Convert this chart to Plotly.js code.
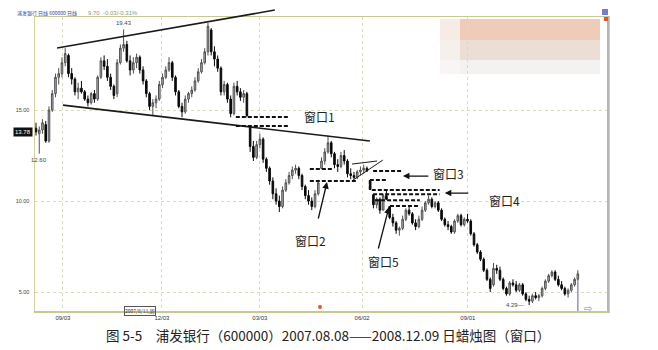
<!DOCTYPE html>
<html><head><meta charset="utf-8">
<script src="https://cdn.plot.ly/plotly-3.0.1.min.js"></script>
<style>html,body{margin:0;padding:0;background:#fff;}#chart{width:658px;height:350px;}</style>
</head><body><div id="chart"></div>
<script>
// ---- data (2-day candles) ----
const openP = [14.0,13.7,13.9,14.2,13.3,15.0,15.9,16.8,17.0,17.6,18.0,17.0,16.7,16.0,16.2,16.0,15.6,15.4,15.9,15.6,16.8,17.7,17.4,16.8,16.3,15.9,17.6,18.4,18.6,17.7,17.2,17.6,17.9,17.2,16.6,15.9,15.2,15.4,15.6,16.4,16.8,17.2,17.6,16.8,16.0,15.2,14.9,15.6,15.9,16.1,16.6,17.1,17.6,18.2,19.4,18.2,17.8,17.3,16.0,16.4,15.6,14.8,16.3,16.0,15.7,15.9,14.1,13.0,12.4,13.1,13.4,12.3,11.8,11.1,10.4,10.0,9.7,10.6,11.0,11.4,11.7,11.8,11.4,10.8,10.3,10.0,9.7,10.4,11.8,12.2,12.7,13.2,12.6,12.0,11.9,12.5,12.2,11.5,11.4,11.3,11.6,11.7,11.8,11.1,10.35,9.8,10.1,9.5,10.3,9.7,9.1,8.8,8.4,8.5,9.0,9.5,9.3,8.8,8.6,9.0,9.5,9.9,10.1,9.7,9.9,9.5,9.0,8.7,8.6,8.3,8.9,9.2,8.7,9.0,8.9,8.2,7.6,7.2,6.8,6.2,5.7,5.4,6.3,6.2,5.7,5.2,4.9,5.5,5.4,5.1,5.4,4.9,4.6,4.5,4.8,4.7,4.8,5.2,5.6,5.9,6.1,5.7,5.4,5.2,4.9,5.1,5.4,5.7];
const highP = [14.3,14.1,14.5,14.4,15.2,16.1,17.0,17.3,17.9,18.4,18.1,17.3,16.8,16.5,16.6,16.1,15.8,16.0,16.1,16.9,17.9,18.0,17.8,17.0,16.4,17.8,18.6,19.43,18.8,18.0,17.9,18.1,18.0,17.4,16.7,16.0,15.6,15.8,16.6,17.0,17.4,17.9,17.7,16.9,16.1,15.4,15.8,16.0,16.3,16.8,17.3,17.8,18.4,19.8,19.5,18.5,18.0,17.4,16.6,16.5,15.8,16.5,16.6,16.2,16.1,16.0,14.1,13.3,13.3,13.7,13.5,12.4,11.9,11.3,10.7,10.3,10.8,11.2,11.6,11.9,12.0,11.9,11.5,10.9,10.6,10.2,10.6,11.1,12.4,12.9,13.6,13.3,12.7,12.3,12.7,12.8,12.3,11.8,11.6,11.7,11.9,12.0,11.9,11.15,10.38,10.2,10.2,10.4,10.6,9.73,9.3,8.9,8.6,9.2,9.6,9.7,9.4,9.0,9.2,9.7,10.0,10.3,10.2,10.0,10.0,9.6,9.1,8.9,8.7,9.0,9.3,9.3,9.1,9.3,9.0,8.3,7.7,7.3,6.9,6.3,5.8,6.6,6.5,6.4,5.8,5.3,5.6,5.7,5.6,5.5,5.5,5.0,4.8,4.9,5.0,4.9,5.3,5.7,6.0,6.2,6.2,5.9,5.6,5.3,5.2,5.5,5.8,6.2];
const lowP  = [13.6,12.6,13.7,13.2,13.2,14.9,15.7,16.4,16.8,17.4,16.8,16.4,15.8,15.6,15.9,15.5,15.2,15.3,15.4,15.5,16.7,17.2,16.6,16.1,15.6,15.7,17.5,18.2,17.6,16.9,17.0,17.3,17.0,16.4,15.7,15.0,14.7,15.1,15.5,16.2,16.7,17.1,16.6,15.8,15.1,14.6,14.8,15.4,15.7,16.0,16.5,17.0,17.5,18.0,18.0,17.4,17.1,15.8,15.8,15.4,14.6,14.7,15.8,15.5,15.4,14.6,12.7,12.2,12.3,12.9,12.1,11.6,10.9,10.1,9.8,9.4,9.6,10.5,10.9,11.2,11.5,11.2,10.6,10.1,9.8,9.5,9.6,10.3,11.76,12.0,12.6,12.4,11.8,11.6,11.8,12.0,11.3,11.2,11.2,11.2,11.4,11.5,11.6,10.6,9.6,9.6,9.3,9.5,10.05,9.0,8.6,8.2,8.1,8.4,8.9,9.2,8.7,8.4,8.5,8.9,9.4,9.8,9.6,9.6,9.4,8.9,8.6,8.4,8.2,8.2,8.8,8.6,8.6,8.8,8.1,7.5,7.1,6.7,6.1,5.6,5.0,5.3,6.0,5.6,5.1,4.8,4.8,5.3,5.0,5.0,4.8,4.5,4.29,4.4,4.6,4.5,4.7,5.1,5.5,5.8,5.6,5.3,5.1,4.8,4.7,5.0,5.3,5.6];
const closeP= [13.8,13.9,14.3,13.3,15.0,15.9,16.8,17.0,17.6,18.1,17.0,16.7,16.0,16.2,16.0,15.6,15.4,15.9,15.6,16.8,17.7,17.4,16.8,16.3,15.8,17.6,18.4,18.6,17.7,17.2,17.6,17.9,17.2,16.6,15.9,15.2,15.4,15.6,16.4,16.8,17.2,17.6,16.8,16.0,15.2,14.9,15.6,15.9,16.1,16.6,17.1,17.6,18.2,19.6,18.2,17.8,17.3,16.0,16.4,15.6,14.8,16.3,16.0,15.7,15.9,14.7,13.0,12.4,13.1,13.4,12.3,11.8,11.1,10.4,10.0,9.7,10.6,11.0,11.4,11.7,11.8,11.4,10.8,10.3,10.0,9.7,10.4,11.0,12.2,12.7,13.2,12.6,12.0,11.9,12.5,12.2,11.5,11.4,11.3,11.6,11.7,11.8,11.65,10.65,9.8,10.1,9.5,10.3,10.1,9.1,8.8,8.4,8.5,9.0,9.5,9.3,8.8,8.6,9.0,9.5,9.9,10.1,9.7,9.9,9.5,9.0,8.7,8.6,8.3,8.9,9.2,8.7,9.0,8.9,8.2,7.6,7.2,6.8,6.2,5.7,5.2,6.3,6.2,5.7,5.2,4.9,5.5,5.4,5.1,5.4,4.9,4.6,4.5,4.8,4.7,4.8,5.2,5.6,5.9,6.1,5.7,5.4,5.2,4.9,5.1,5.4,5.7,6.0];
const tickPos = [8.3, 38.8, 69.0, 100.5, 133.1];
const tickText = ['09/03','12/03','03/03','06/02','09/01'];
const yTickVals = [5, 10, 15];
const yTickText = ['5.00','10.00','15.00'];
const lastPrice = 13.78;
const highLabel = 19.43, lowLabel = 12.60, minLabel = 4.29;

// analyst drawings (data coordinates: candle index, price)
const upperTrend = [[6.5, 18.41], [73.6, 20.49]];
const lowerTrend = [[8.3, 15.27], [102.9, 13.30]];
const triUpper = [[97.4, 12.03], [105.1, 12.20]];
const triLower = [[97.7, 11.15], [106.9, 12.25]];
const windowLines = [
  [61.6, 77.7, 14.62], [61.6, 77.7, 14.12],
  [84.4, 91.5, 11.76], [84.4, 98.9, 11.10],
  [103.9, 113.1, 11.65], [102.9, 108.2, 11.15],
  [103.5, 124.4, 10.60], [103.9, 124.4, 10.38],
  [104.5, 118.3, 10.05], [109.1, 118.3, 9.73]
];
const windowNames = ['窗口1','窗口2','窗口3','窗口4','窗口5'];
const labelPos = [[87.5, 14.62], [84.7, 7.86], [127.0, 11.54], [144.5, 10.05], [107.0, 6.70]];
const arrows = [null, [[86.9, 8.96],[89.7, 11.04]], [[121.4, 11.37],[113.1, 11.37]], [[133.7, 10.44],[126.0, 10.44]], [[105.4, 7.31],[108.8, 9.67]]];

const Y0 = 3.96, Y1 = 20.11, X0 = -0.31, X1 = 176.3;
const idx = openP.map((_, i) => i);
const px = v => (v - 35) / 573;
const py = v => (311 - v) / 294;
const toPaperY = p => (p - Y0) / (Y1 - Y0);

const trace = {
  type: 'candlestick', x: idx, open: openP, high: highP, low: lowP, close: closeP,
  increasing: {line: {color: '#505050', width: 1}, fillcolor: '#b8b8b8'},
  decreasing: {line: {color: '#0a0a0a', width: 1}, fillcolor: '#0a0a0a'},
  whiskerwidth: 0, hoverinfo: 'skip'
};

const shapes = [];
// watermark blob
shapes.push({type:'rect', xref:'paper', yref:'paper', x0:px(440), x1:px(600), y0:py(40), y1:py(19), fillcolor:'#efcbb9', line:{width:0}, layer:'below'});
shapes.push({type:'rect', xref:'paper', yref:'paper', x0:px(440), x1:px(600), y0:py(60), y1:py(40), fillcolor:'#ecded5', line:{width:0}, layer:'below'});
shapes.push({type:'rect', xref:'paper', yref:'paper', x0:px(440), x1:px(600), y0:py(74), y1:py(60), fillcolor:'#f3f2f1', line:{width:0}, layer:'below'});
shapes.push({type:'rect', xref:'paper', yref:'paper', x0:px(440), x1:px(460), y0:py(74), y1:py(19), fillcolor:'rgba(250,246,244,0.75)', line:{width:0}, layer:'below'});
// right border
shapes.push({type:'line', xref:'paper', yref:'paper', x0:1, x1:1, y0:0, y1:1, line:{color:'#b5b5b5', width:2}});
// corner squares
shapes.push({type:'rect', xref:'paper', yref:'paper', x0:px(602), x1:px(608), y0:py(15), y1:py(9), fillcolor:'#6f7fd8', line:{width:0}});
shapes.push({type:'rect', xref:'paper', yref:'paper', x0:px(604), x1:px(608), y0:py(21), y1:py(17), fillcolor:'#e0581e', line:{width:0}});
// orange marker near axis
shapes.push({type:'circle', xref:'paper', yref:'paper', x0:px(318), x1:px(322), y0:py(309), y1:py(305), fillcolor:'#e65a20', line:{width:0}});
// last-bar cursor line
const last = idx.length - 1;
shapes.push({type:'line', xref:'x', yref:'y', x0:last, x1:last, y0:lowP[last], y1:Y0, line:{color:'#8e8ee0', width:1.5}});
// trend lines
const solid = {color:'#1a1a1a', width:1.6};
shapes.push({type:'line', xref:'x', yref:'paper', x0:upperTrend[0][0], y0:toPaperY(upperTrend[0][1]), x1:upperTrend[1][0], y1:toPaperY(upperTrend[1][1]), line:solid});
shapes.push({type:'line', xref:'x', yref:'y', x0:lowerTrend[0][0], y0:lowerTrend[0][1], x1:lowerTrend[1][0], y1:lowerTrend[1][1], line:solid});
shapes.push({type:'line', xref:'x', yref:'y', x0:triUpper[0][0], y0:triUpper[0][1], x1:triUpper[1][0], y1:triUpper[1][1], line:{color:'#1a1a1a', width:1}});
shapes.push({type:'line', xref:'x', yref:'y', x0:triLower[0][0], y0:triLower[0][1], x1:triLower[1][0], y1:triLower[1][1], line:{color:'#1a1a1a', width:1}});
// window dashed lines
windowLines.forEach(w => shapes.push({type:'line', xref:'x', yref:'y', x0:w[0], x1:w[1], y0:w[2], y1:w[2], line:{color:'#111', width:2, dash:'4px,2px'}}));
shapes.push({type:'line', xref:'x', yref:'y', x0:102.9, x1:102.9, y0:11.15, y1:10.6, line:{color:'#111', width:2, dash:'4px,2px'}});

const annotations = [];
const tiny = {family:'Liberation Sans, Arial', size:6, color:'#444'};
annotations.push({xref:'paper', yref:'paper', x:px(15), y:py(13), xanchor:'left', yanchor:'middle', showarrow:false, text:'浦发银行 日线 600000 日线', font:{family:'Noto Sans CJK SC', size:5, color:'#3344aa'}});
annotations.push({xref:'paper', yref:'paper', x:px(86), y:py(13), xanchor:'left', yanchor:'middle', showarrow:false, text:'9.70  -0.03/-0.31%', font:{family:'Liberation Sans', size:6, color:'#8c9a70'}});
annotations.push({xref:'paper', yref:'y', x:px(33), y:lastPrice, xanchor:'right', yanchor:'middle', showarrow:false, text:lastPrice.toFixed(2), bgcolor:'#111', borderpad:1, font:{family:'Liberation Sans', size:6, color:'#fff'}});
annotations.push({xref:'x', yref:'y', x:1, y:lowLabel, yanchor:'top', yshift:-1, showarrow:false, text:lowLabel.toFixed(2), font:tiny});
annotations.push({xref:'x', yref:'y', x:27, y:highLabel, yanchor:'bottom', yshift:1, showarrow:false, text:highLabel.toFixed(2), font:tiny});
annotations.push({xref:'x', yref:'y', x:152, y:minLabel, xanchor:'right', xshift:-3, yanchor:'middle', showarrow:false, text:minLabel.toFixed(2) + '—', font:tiny});
windowNames.forEach((n, i) => {
  annotations.push({xref:'x', yref:'y', x:labelPos[i][0], y:labelPos[i][1], showarrow:false, text:n, font:{family:'Noto Sans CJK SC', size:12, color:'#222'}});
  if (arrows[i]) {
    const a = arrows[i];
    annotations.push({xref:'x', yref:'y', axref:'x', ayref:'y', x:a[1][0], y:a[1][1], ax:a[0][0], ay:a[0][1], text:'', showarrow:true, arrowhead:2, arrowsize:1, arrowwidth:1.3, arrowcolor:'#111'});
  }
});
annotations.push({xref:'paper', yref:'paper', x:px(123.5), y:py(316), showarrow:false, text:'2007/8/11,周', bordercolor:'#555', borderwidth:1, borderpad:0, font:{family:'Noto Sans CJK SC', size:5, color:'#333'}});
annotations.push({xref:'paper', yref:'paper', x:px(594), y:py(316), showarrow:false, text:'⇨', font:{family:'DejaVu Sans', size:10, color:'#7080c8'}});
annotations.push({xref:'paper', yref:'paper', x:px(328), y:py(335), showarrow:false, yanchor:'middle', text:'图 5-5　浦发银行（600000）2007.08.08——2008.12.09 日蜡烛图（窗口）', font:{family:'Noto Sans CJK SC', size:13.5, color:'#222'}});

const layout = {
  width: 658, height: 350,
  margin: {l:35, r:50, t:17, b:39, pad:0},
  paper_bgcolor: '#fff', plot_bgcolor: '#fff',
  showlegend: false, dragmode: false,
  xaxis: {range:[X0, X1], tickmode:'array', tickvals:tickPos, ticktext:tickText, showgrid:true, gridcolor:'#d9ddb2', griddash:'dot', gridwidth:1,
          zeroline:false, showline:true, linecolor:'#c8c894', linewidth:1.5, mirror:true, ticks:'', tickfont:{family:'Liberation Sans', size:6, color:'#333'},
          rangeslider:{visible:false}, fixedrange:true},
  yaxis: {range:[Y0, Y1], tickmode:'array', tickvals:yTickVals, ticktext:yTickText, showgrid:true, gridcolor:'#d9ddb2', griddash:'dot', gridwidth:1,
          zeroline:false, showline:true, linecolor:'#d3d39e', linewidth:1.5, mirror:true, ticks:'', ticklabelstandoff:3, tickfont:{family:'Liberation Sans', size:5.5, color:'#444'}, fixedrange:true},
  shapes: shapes, annotations: annotations
};
Plotly.newPlot('chart', [trace], layout, {staticPlot:true, displayModeBar:false});
</script></body></html>
